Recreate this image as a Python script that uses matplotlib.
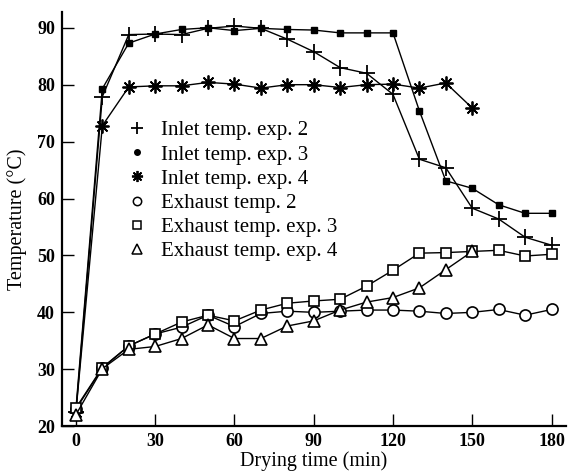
import matplotlib
matplotlib.use("Agg")
import matplotlib.pyplot as plt
from matplotlib.lines import Line2D

time_full = [0, 10, 20, 30, 40, 50, 60, 70, 80, 90, 100, 110, 120, 130, 140, 150, 160, 170, 180]
time_to150 = [0, 10, 20, 30, 40, 50, 60, 70, 80, 90, 100, 110, 120, 130, 140, 150]

inlet_exp2 = [22.5, 77.9, 88.8, 88.9, 88.8, 89.9, 90.3, 89.9, 88.0, 85.8, 83.0, 82.0, 78.3, 66.9, 65.4, 58.3, 56.4, 53.2, 51.8]
inlet_exp3 = [23.0, 79.3, 87.3, 88.9, 89.7, 90.0, 89.5, 89.9, 89.7, 89.6, 89.1, 89.1, 89.1, 75.4, 63.1, 61.8, 58.9, 57.4, 57.4]
inlet_exp4 = [22.5, 72.8, 79.6, 79.8, 79.8, 80.4, 80.1, 79.4, 80.0, 80.0, 79.5, 80.0, 80.1, 79.4, 80.3, 75.9]
exhaust_exp2 = [23.0, 30.2, 34.1, 36.2, 37.4, 39.5, 37.5, 39.8, 40.2, 40.0, 40.2, 40.4, 40.4, 40.2, 39.8, 40.0, 40.5, 39.5, 40.5]
exhaust_exp3 = [23.2, 30.3, 34.1, 36.2, 38.3, 39.5, 38.5, 40.4, 41.6, 42.0, 42.3, 44.6, 47.4, 50.4, 50.5, 50.7, 50.9, 49.9, 50.2]
exhaust_exp4 = [22.0, 30.1, 33.5, 34.0, 35.4, 37.8, 35.4, 35.4, 37.6, 38.5, 40.4, 41.8, 42.6, 44.3, 47.5, 50.7]

labels = ["Inlet temp. exp. 2", "Inlet temp. exp. 3", "Inlet temp. exp. 4",
          "Exhaust temp. 2", "Exhaust temp. exp. 3", "Exhaust temp. exp. 4"]
x_ticks = [0, 30, 60, 90, 120, 150, 180]
y_ticks = [20, 30, 40, 50, 60, 70, 80, 90]

plt.rcParams['font.family'] = ['Liberation Serif', 'DejaVu Serif']

fig = plt.figure(figsize=(5.68, 4.73), dpi=100)
ax = fig.add_axes([0.109, 0.099, 0.888, 0.876])

lw = 1.0
ax.plot(time_full, inlet_exp2, color='black', lw=lw, marker='+', ms=11, mew=1.3, zorder=3)
ax.plot(time_full, inlet_exp3, color='black', lw=lw, marker='s', ms=4.5, mfc='black', zorder=3)
ax.plot(time_to150, inlet_exp4, color='black', lw=lw, marker=(8, 2, 0), ms=10, mew=1.3, zorder=3)
ax.plot(time_full, exhaust_exp2, color='black', lw=lw, marker='o', ms=8, mfc='white', mew=1.2, zorder=3)
ax.plot(time_full, exhaust_exp3, color='black', lw=lw, marker='s', ms=7.5, mfc='white', mew=1.2, zorder=3)
ax.plot(time_to150, exhaust_exp4, color='black', lw=lw, marker='^', ms=8, mfc='white', mew=1.2, zorder=3)

handles = [
    Line2D([], [], ls='none', color='black', marker='+', ms=9, mew=1.3),
    Line2D([], [], ls='none', color='black', marker='o', ms=4, mfc='black'),
    Line2D([], [], ls='none', color='black', marker=(8, 2, 0), ms=8, mew=1.3),
    Line2D([], [], ls='none', color='black', marker='o', ms=6, mfc='white', mew=1.1),
    Line2D([], [], ls='none', color='black', marker='s', ms=6, mfc='white', mew=1.1),
    Line2D([], [], ls='none', color='black', marker='^', ms=6.5, mfc='white', mew=1.1),
]
leg = ax.legend(handles, labels, loc='upper left', bbox_to_anchor=(0.115, 0.757),
                frameon=False, fontsize=15, handlelength=0.8, handletextpad=0.75,
                labelspacing=0.22, borderaxespad=0)

ax.set_xlim(-5.3, 185.6)
ax.set_ylim(20, 92.8)
ax.set_xticks(x_ticks)
ax.set_yticks(y_ticks)
ax.tick_params(direction='in', length=8.5, width=1.0, labelsize=13, pad=5)
for lab in ax.get_xticklabels() + ax.get_yticklabels():
    lab.set_fontweight('bold')
ax.spines['top'].set_visible(False)
ax.spines['right'].set_visible(False)
ax.spines['left'].set_linewidth(1.6)
ax.spines['bottom'].set_linewidth(1.6)

ax.set_xlabel("Drying time (min)", fontsize=14.5, labelpad=1)
ax.set_ylabel("Temperature (°C)", fontsize=14.5, labelpad=7)

fig.savefig("out.png", dpi=100)
